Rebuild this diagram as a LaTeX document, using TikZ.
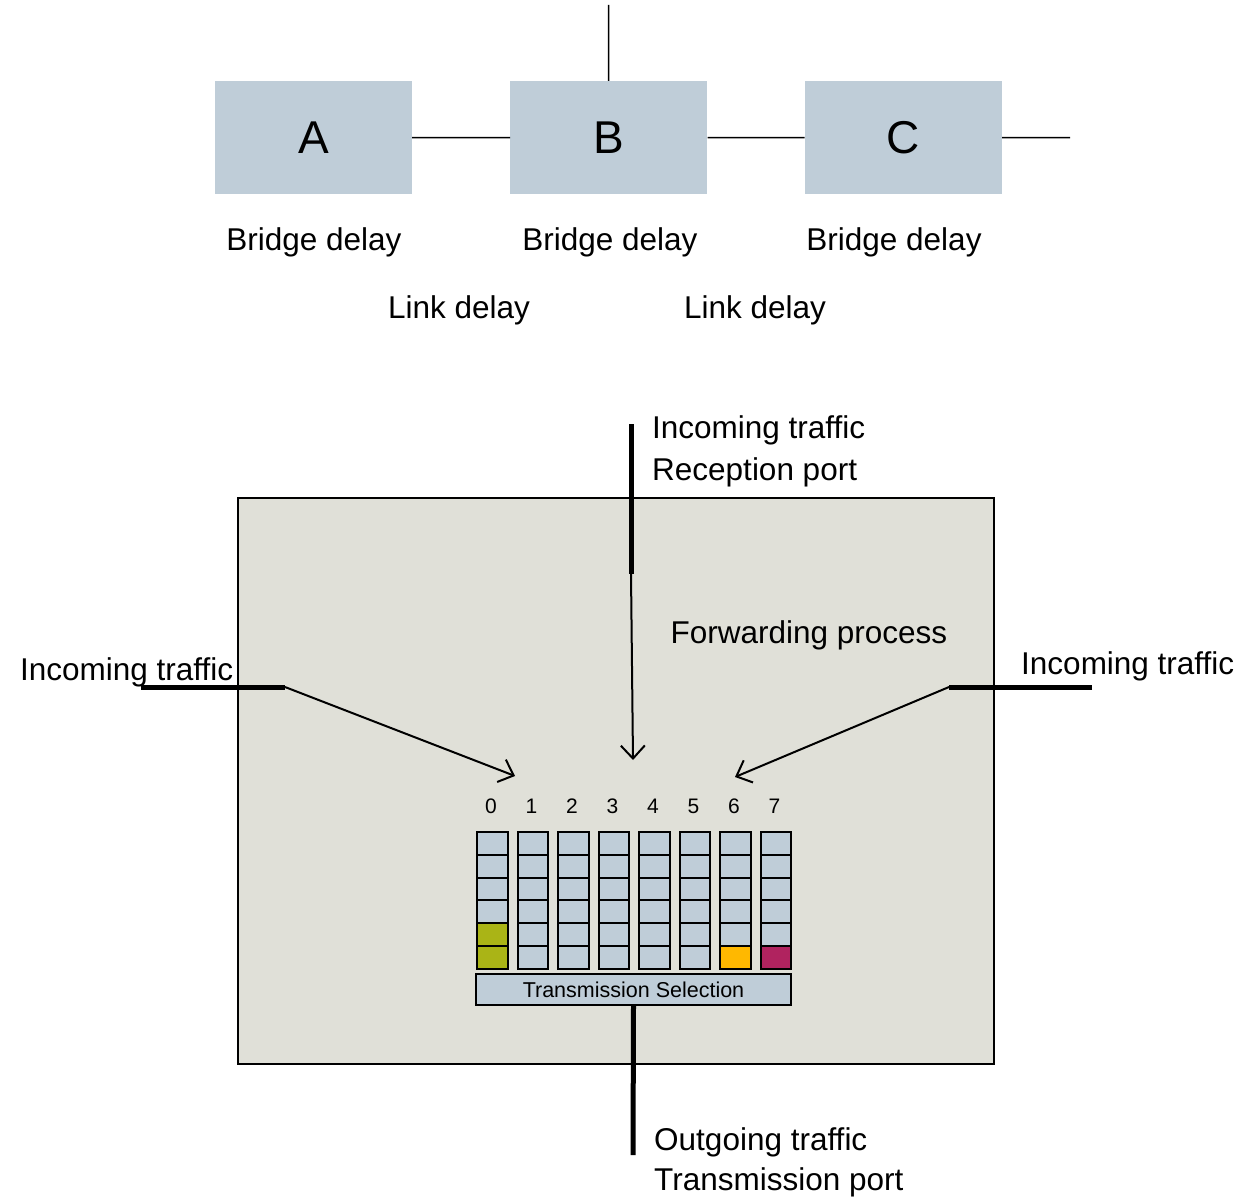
\documentclass[tikz,border=0pt]{standalone}
\usepackage{fontspec}
\setmainfont{Liberation Sans}
\usetikzlibrary{positioning,arrows.meta}
\definecolor{boxblue}{RGB}{191,205,216}
\definecolor{fwdgrey}{RGB}{224,224,216}
\definecolor{qgreen}{RGB}{170,180,22}
\definecolor{qorange}{RGB}{255,184,0}
\definecolor{qred}{RGB}{176,35,95}
\tikzset{
bridge/.style={fill=boxblue, minimum width=197pt, minimum height=113pt, inner sep=0pt, font=\fontsize{46}{54}\selectfont},
lbl/.style={font=\fontsize{31.5}{42}\selectfont, inner sep=0pt},
small/.style={font=\fontsize{21}{24}\selectfont, inner sep=0pt, anchor=base},
wire/.style={line width=1.5pt},
port/.style={line width=5pt},
cell/.style={draw, line width=2.2pt, fill=boxblue, minimum width=30.5pt, minimum height=22.75pt, inner sep=0pt, anchor=north west},
flow/.style={line width=2pt, -{Straight Barb[length=13pt,width=24pt,line width=2pt]}},
% filled queue slots
c04/.style={fill=qgreen}, c05/.style={fill=qgreen},
c65/.style={fill=qorange}, c75/.style={fill=qred}
}

\begin{document}
\begin{tikzpicture}[x=1pt,y=-1pt]
\useasboundingbox (0,0) rectangle (1244,1196);

% bridges in a row
\node[bridge] (A) at (313.5,137.5) {A};
\node[bridge, right=98pt of A] (B) {B};
\node[bridge, right=97pt of B] (C) {C};
\coordinate (Bup) at (608.5,5);
\coordinate (Cout) at (1070,137.5);
\draw[wire] (A) -- (B) (B) -- (C) (C) -- (Cout) (B) -- (Bup);

\node[lbl, anchor=base] (dA) at (314,250) {Bridge delay};
\node[lbl, anchor=base] (dB) at (610,250) {Bridge delay};
\node[lbl, anchor=base] (dC) at (894,250) {Bridge delay};
\node[lbl, anchor=base] (lAB) at (459,318) {Link delay};
\node[lbl, anchor=base] (lBC) at (755,318) {Link delay};

% forwarding process
\node[draw, wire, fill=fwdgrey, minimum width=756pt, minimum height=566pt, inner sep=0pt] (fwd) at (616,781) {};
\node[lbl, anchor=base] (fwdlbl) at (809,643) {Forwarding process};

% queues 0..7
\foreach \i in {0,...,7}{
  \node[small] (n\i) at (491+40.5*\i,813) {\i};
  \foreach \j in {0,...,5}{
    \node[cell, c\i\j/.try] (q\i\j) at (476+40.5*\i,831+22.75*\j) {};
  }
}
\node[draw, line width=2.2pt, fill=boxblue, minimum width=315pt, minimum height=31pt, inner sep=0pt, font=\fontsize{21.5}{24}\selectfont] (ts) at (633.5,989.5) {Transmission Selection};

% reception port
\coordinate (rxtop) at (631,424);
\coordinate (rxbot) at (631,574);
\coordinate (rxin) at (633,760);
\draw[port] (rxtop) -- (rxbot);
\draw[flow] (rxbot) -- (rxin);
\node[lbl, anchor=base west] (rx1) at (652,438) {Incoming traffic};
\node[lbl, anchor=base west] (rx2) at (652,480) {Reception port};

% incoming left / right
\coordinate (lo) at (141,687);
\coordinate (li) at (285,687);
\coordinate (lin) at (515,776);
\draw[port] (lo) -- (li);
\draw[flow] (li) -- (lin);
\node[lbl, anchor=base west] (inl) at (20,680) {Incoming traffic};
\coordinate (ro) at (1092,687);
\coordinate (ri) at (949,687);
\coordinate (rin) at (735,777);
\draw[port] (ro) -- (ri);
\draw[flow] (ri) -- (rin);
\node[lbl, anchor=base west] (inr) at (1021,674) {Incoming traffic};

% transmission port
\coordinate (txbot) at (633,1155);
\draw[port] (ts.south) -- (txbot);
\node[lbl, anchor=base west] (tx1) at (654,1150) {Outgoing traffic};
\node[lbl, anchor=base west] (tx2) at (654,1190) {Transmission port};
\end{tikzpicture}
\end{document}
